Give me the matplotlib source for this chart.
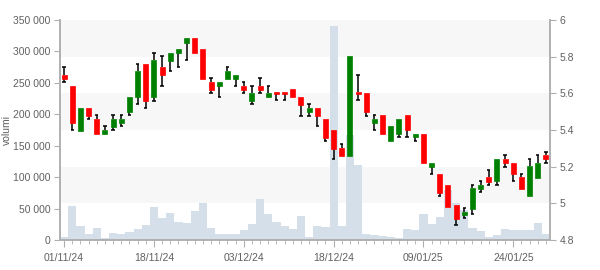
import matplotlib
matplotlib.use("Agg")
import matplotlib.pyplot as plt
import matplotlib.transforms as mtransforms
from matplotlib.patches import Rectangle
from matplotlib.ticker import FuncFormatter, FixedLocator, MultipleLocator

plt.rcParams['font.family'] = ['Liberation Sans', 'DejaVu Sans']

opens = [5.70, 5.64, 5.396, 5.52, 5.46, 5.38, 5.418, 5.44, 5.50, 5.578,
         5.762, 5.578, 5.742, 5.778, 5.818, 5.876, 5.902, 5.842, 5.662, 5.638,
         5.68, 5.68, 5.64, 5.56, 5.64, 5.578, 5.606, 5.606, 5.622, 5.58,
         5.50, 5.52, 5.46, 5.40, 5.302, 5.26, 5.606, 5.602, 5.44, 5.48,
         5.338, 5.38, 5.48, 5.36, 5.38, 5.20, 5.16, 5.10, 4.989, 4.938,
         4.971, 5.08, 5.144, 5.12, 5.24, 5.218, 5.142, 5.038, 5.14, 5.262]
closes = [5.678, 5.44, 5.52, 5.478, 5.38, 5.40, 5.46, 5.46, 5.58, 5.722,
          5.56, 5.782, 5.698, 5.82, 5.842, 5.902, 5.818, 5.68, 5.62, 5.662,
          5.722, 5.70, 5.62, 5.60, 5.62, 5.60, 5.596, 5.596, 5.578, 5.538,
          5.52, 5.478, 5.358, 5.298, 5.26, 5.804, 5.596, 5.50, 5.46, 5.38,
          5.42, 5.46, 5.398, 5.38, 5.218, 5.218, 5.058, 4.978, 4.916, 4.953,
          5.082, 5.10, 5.118, 5.24, 5.218, 5.158, 5.08, 5.204, 5.218, 5.24]
highs = [5.742, 5.64, 5.52, 5.52, 5.48, 5.42, 5.48, 5.48, 5.58, 5.76,
         5.762, 5.818, 5.804, 5.82, 5.842, 5.902, 5.902, 5.842, 5.682, 5.662,
         5.742, 5.70, 5.662, 5.638, 5.682, 5.638, 5.606, 5.606, 5.622, 5.58,
         5.54, 5.52, 5.46, 5.40, 5.322, 5.804, 5.698, 5.602, 5.48, 5.48,
         5.42, 5.46, 5.48, 5.38, 5.38, 5.218, 5.16, 5.10, 4.989, 4.973,
         5.10, 5.12, 5.18, 5.24, 5.262, 5.218, 5.158, 5.24, 5.262, 5.28]
lows = [5.66, 5.40, 5.396, 5.458, 5.38, 5.38, 5.398, 5.42, 5.48, 5.54,
        5.518, 5.56, 5.638, 5.722, 5.742, 5.78, 5.818, 5.68, 5.60, 5.578,
        5.68, 5.638, 5.60, 5.54, 5.60, 5.578, 5.562, 5.562, 5.578, 5.478,
        5.478, 5.42, 5.338, 5.24, 5.26, 5.26, 5.562, 5.478, 5.398, 5.38,
        5.338, 5.36, 5.36, 5.338, 5.218, 5.158, 5.038, 4.978, 4.88, 4.918,
        4.942, 5.06, 5.098, 5.10, 5.20, 5.12, 5.08, 5.038, 5.14, 5.218]
volumes = [5000, 54000, 22300, 9500, 19000, 3200, 11000, 9500, 12700, 17500,
           24300, 52500, 35000, 43400, 29100, 27000, 46100, 58900, 19000, 9500,
           9500, 9500, 15900, 25500, 65200, 41400, 28600, 22300, 17500, 38200,
           4800, 22300, 20700, 340500, 22300, 167000, 119300, 9500, 8000, 6400,
           4800, 3200, 17500, 15900, 41400, 25500, 36600, 79500, 58900, 47700,
           19000, 14300, 4800, 8000, 17500, 15900, 15900, 15900, 27000, 9500]
tick_labels = ["01/11/24", "18/11/24", "03/12/24", "18/12/24", "09/01/25", "24/01/25"]
tick_index = [0, 11, 22, 33, 44, 55]

GREEN = "#008000"
RED = "#ff0000"
VOLC = "#d5dfe9"
TXT = "#606060"
AXC = "#b0b0b0"

fig = plt.figure(figsize=(6, 2.7), dpi=100)
ax = fig.add_axes([0.1, 0.111, 0.8167, 0.815])
ax2 = ax.twinx()

n = len(opens)
xs = list(range(n))

ax.set_xlim(-0.5, n - 0.5)
ax.set_ylim(0, 350000)
ax2.set_ylim(4.8, 6.0)

# background bands
bt = mtransforms.blended_transform_factory(ax.transAxes, ax2.transData)
for lo in [5.0, 5.4, 5.8]:
    ax.add_patch(Rectangle((0, lo), 1, 0.2, transform=bt, facecolor="#f7f7f7",
                           edgecolor="none", zorder=0))

ax.bar(xs, volumes, width=1.0, color=VOLC, edgecolor="none", zorder=1)

bw = 0.6
cw = 0.2
for i in xs:
    o, c, h, l = opens[i], closes[i], highs[i], lows[i]
    col = GREEN if c >= o else RED
    top, bot = max(o, c), min(o, c)
    if h > top + 1e-9:
        ax2.plot([i, i], [top, h], color="black", lw=1.1, zorder=2, solid_capstyle="butt")
        ax2.plot([i - cw, i + cw], [h, h], color="black", lw=1.1, zorder=2, solid_capstyle="butt")
    if l < bot - 1e-9:
        ax2.plot([i, i], [l, bot], color="black", lw=1.1, zorder=2, solid_capstyle="butt")
        ax2.plot([i - cw, i + cw], [l, l], color="black", lw=1.1, zorder=2, solid_capstyle="butt")
    ax2.add_patch(Rectangle((i - bw / 2, bot), bw, max(top - bot, 0.004),
                            facecolor=col, edgecolor=col, lw=0.5, zorder=3))

# axes styling
for a in (ax, ax2):
    a.spines['top'].set_visible(False)
    for s in ['left', 'right', 'bottom']:
        a.spines[s].set_color(AXC)
        a.spines[s].set_linewidth(1.2)

ax.xaxis.set_major_locator(FixedLocator(tick_index))
ax.set_xticklabels(tick_labels)
ax.xaxis.set_minor_locator(MultipleLocator(1))
ax.tick_params(axis='x', which='major', length=5, color=AXC, labelsize=7.5, labelcolor=TXT, pad=4)
ax.tick_params(axis='x', which='minor', length=3, color=AXC)

ax.yaxis.set_major_locator(MultipleLocator(50000))
ax.yaxis.set_major_formatter(FuncFormatter(lambda v, p: f"{int(v):,}".replace(",", " ")))
ax.tick_params(axis='y', length=4, color=AXC, labelsize=7.5, labelcolor=TXT, pad=3)
ax.set_ylabel("volumi", fontsize=7.5, color=TXT)
ax.yaxis.set_label_coords(-0.098, 0.5)

ax2.yaxis.set_major_locator(MultipleLocator(0.2))
ax2.yaxis.set_major_formatter(FuncFormatter(lambda v, p: f"{round(v, 1):g}"))
ax2.tick_params(axis='y', length=4, color=AXC, labelsize=7.5, labelcolor=TXT, pad=3)

fig.savefig("out.png", dpi=100)
